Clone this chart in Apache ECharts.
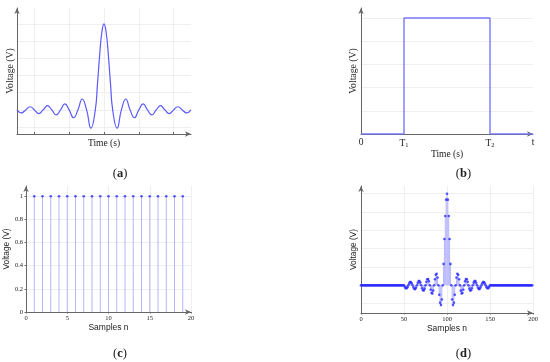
<!DOCTYPE html>
<html><head><meta charset="utf-8">
<script src="https://cdn.jsdelivr.net/npm/echarts@6/dist/echarts.min.js"></script>
<style>html,body{margin:0;padding:0;background:#fff}#c{width:550px;height:362px}</style>
</head><body><div id="c"></div>
<script>
// ---- (a) continuous pulse: extrema and zero crossings
const timeA = [-10,-9.5,-9,-8.5,-8,-7.5,-7,-6.5,-6,-5.5,-5,-4.5,-4,-3.5,-3,-2.5,-2,-1.5,-1,-0.75,-0.5,-0.25,0,0.25,0.5,0.75,1,1.5,2,2.5,3,3.5,4,4.5,5,5.5,6,6.5,7,7.5,8,8.5,9,9.5,10];
const voltA = [0,-0.034,0,0.037,0,-0.042,0,0.049,0,-0.058,0,0.071,0,-0.091,0,0.127,0,-0.212,0,0.300,0.637,0.900,1,0.900,0.637,0.300,0,-0.212,0,0.127,0,-0.091,0,0.071,0,-0.058,0,0.049,0,-0.042,0,0.037,0,-0.034,0];
const ticksA = [-8,-4,0,4,8];
const gridA = [-0.2,0,0.2,0.4,0.6,0.8,1];

// ---- (b) rectangular pulse
const timeB = [0,1,1,3,3,4];
const voltB = [0,0,1,1,0,0];
const tickPosB = [0,1,3,4];
const tickLabB = ['0','T{s|1}','T{s|2}','t'];
const gridB = [0.2,0.4,0.6,0.8,1];

// ---- (c) discrete unit samples
const samplesC = [1,2,3,4,5,6,7,8,9,10,11,12,13,14,15,16,17,18,19];
const voltC = [1,1,1,1,1,1,1,1,1,1,1,1,1,1,1,1,1,1,1];
const xTicksC = [0,5,10,15,20];
const yTicksC = [0,0.2,0.4,0.6,0.8,1];

// ---- (d) sampled pulse, n = 0..200
const voltD = [
0,0,0,0,0,0,0,0,0,0, 0,0,0,0,0,0,0,0,0,0, 0,0,0,0,0,0,0,0,0,0, 0,0,0,0,0,0,0,0,0,0, 0,0,0,0,0,0,0,0,0,0,
0,-0.019,-0.032,-0.032,-0.020, 0,0.021,0.035,0.036,0.023, 0,-0.024,-0.040,-0.041,-0.026, 0,0.028,0.046,0.047,0.030,
0,-0.032,-0.054,-0.056,-0.036, 0,0.039,0.066,0.069,0.045, 0,-0.049,-0.084,-0.089,-0.058, 0,0.067,0.116,0.126,0.085,
0,-0.104,-0.189,-0.216,-0.156, 0,0.234,0.505,0.757,0.935,
1.000,
0.935,0.757,0.505,0.234,0, -0.156,-0.216,-0.189,-0.104,0, 0.085,0.126,0.116,0.067,0, -0.058,-0.089,-0.084,-0.049,0,
0.045,0.069,0.066,0.039,0, -0.036,-0.056,-0.054,-0.032,0, 0.030,0.047,0.046,0.028,0, -0.026,-0.041,-0.040,-0.024,0,
0.023,0.036,0.035,0.021,0, -0.020,-0.032,-0.032,-0.019,0,
0,0,0,0,0,0,0,0,0,0, 0,0,0,0,0,0,0,0,0,0, 0,0,0,0,0,0,0,0,0,0, 0,0,0,0,0,0,0,0,0,0, 0,0,0,0,0,0,0,0,0
];
const xTicksD = [0,50,100,150,200];
const gridD = [-0.2,0,0.2,0.4,0.6,0.8,1];

const SERIF = '"Liberation Serif", "DejaVu Serif", serif';
const SANS = '"Liberation Sans", Arial, sans-serif';
const AXC = '#666';
const GRIDC = '#efefef';

function axisLine(){ return {onZero:false, lineStyle:{color:AXC,width:1}, symbol:['none','arrow'], symbolSize:[4,6]}; }

const chart = echarts.init(document.getElementById('c'), null, {renderer:'canvas'});
chart.setOption({
  animation:false,
  backgroundColor:'#fff',
  grid:[
    {left:17, top:8, width:174, height:126},
    {left:361, top:8, width:172, height:126},
    {left:26, top:186, width:165, height:126},
    {left:361, top:186, width:172, height:127}
  ],
  xAxis:[
    {gridIndex:0, type:'value', min:-10, max:10, axisLine:axisLine(),
     axisTick:{show:true, inside:true, length:2, customValues:ticksA, lineStyle:{color:AXC}},
     axisLabel:{show:false}, splitLine:{show:true, lineStyle:{color:GRIDC}},
     name:'Time (s)', nameLocation:'middle', nameGap:4,
     nameTextStyle:{fontFamily:SERIF, fontSize:9.5, color:'#222', verticalAlign:'top'}},
    {gridIndex:1, type:'value', min:0, max:4, axisLine:axisLine(),
     axisTick:{show:false, customValues:tickPosB},
     axisLabel:{show:true, customValues:tickPosB, margin:3, fontFamily:SERIF, fontSize:9.5, color:'#222',
       formatter:function(v){ return tickLabB[tickPosB.indexOf(v)]; },
       rich:{s:{fontFamily:SERIF, fontSize:6.5, color:'#222', verticalAlign:'bottom', padding:[5,0,0,0]}}},
     splitLine:{show:false},
     name:'Time (s)', nameLocation:'middle', nameGap:9,
     nameTextStyle:{fontFamily:SERIF, fontSize:9.5, color:'#222', verticalAlign:'top'}},
    {gridIndex:2, type:'value', min:0, max:20, axisLine:axisLine(),
     axisTick:{show:true, length:1.5, customValues:xTicksC, lineStyle:{color:AXC}},
     axisLabel:{show:true, customValues:xTicksC, margin:3, fontFamily:SERIF, fontSize:6.5, color:'#222'},
     splitLine:{show:true, lineStyle:{color:GRIDC}},
     name:'Samples n', nameLocation:'middle', nameGap:10,
     nameTextStyle:{fontFamily:SANS, fontSize:8.5, color:'#222', verticalAlign:'top'}},
    {gridIndex:3, type:'value', min:0, max:200, axisLine:axisLine(),
     axisTick:{show:true, length:1.5, customValues:xTicksD, lineStyle:{color:AXC}},
     axisLabel:{show:true, customValues:xTicksD, margin:3, fontFamily:SERIF, fontSize:6.5, color:'#222'},
     splitLine:{show:true, lineStyle:{color:GRIDC}},
     name:'Samples n', nameLocation:'middle', nameGap:10,
     nameTextStyle:{fontFamily:SANS, fontSize:8.5, color:'#222', verticalAlign:'top'}}
  ],
  yAxis:[
    {gridIndex:0, type:'value', min:-0.28, max:1.185, axisLine:axisLine(),
     axisTick:{show:false, customValues:gridA}, axisLabel:{show:false},
     splitLine:{show:true, lineStyle:{color:GRIDC}},
     name:'Voltage (V)', nameLocation:'middle', nameGap:2,
     nameTextStyle:{fontFamily:SERIF, fontSize:9.7, color:'#222'}},
    {gridIndex:1, type:'value', min:0, max:1.086, axisLine:axisLine(),
     axisTick:{show:false, customValues:gridB}, axisLabel:{show:false},
     splitLine:{show:true, lineStyle:{color:GRIDC}},
     name:'Voltage (V)', nameLocation:'middle', nameGap:3,
     nameTextStyle:{fontFamily:SERIF, fontSize:9.7, color:'#222'}},
    {gridIndex:2, type:'value', min:0, max:1.089, axisLine:axisLine(),
     axisTick:{show:true, length:1.5, customValues:yTicksC, lineStyle:{color:AXC}},
     axisLabel:{show:true, customValues:yTicksC, margin:3, fontFamily:SERIF, fontSize:6.5, color:'#222'},
     splitLine:{show:true, lineStyle:{color:GRIDC}},
     name:'Voltage (V)', nameLocation:'middle', nameGap:11,
     nameTextStyle:{fontFamily:SANS, fontSize:8.3, color:'#222'}},
    {gridIndex:3, type:'value', min:-0.302, max:1.084, axisLine:axisLine(),
     axisTick:{show:false, customValues:gridD}, axisLabel:{show:false},
     splitLine:{show:true, lineStyle:{color:GRIDC}},
     name:'Voltage (V)', nameLocation:'middle', nameGap:3,
     nameTextStyle:{fontFamily:SANS, fontSize:8.3, color:'#222'}}
  ],
  series:[
    {type:'line', xAxisIndex:0, yAxisIndex:0, smooth:0.5, showSymbol:false,
     lineStyle:{color:'#5a5aff', width:1.2},
     data:timeA.map((t,i)=>[t, voltA[i]])},
    {type:'line', xAxisIndex:1, yAxisIndex:1, showSymbol:false,
     lineStyle:{color:'#7878ff', width:1.4},
     data:timeB.map((t,i)=>[t, voltB[i]])},
    {type:'bar', xAxisIndex:2, yAxisIndex:2, barWidth:1,
     itemStyle:{color:'#b6b6ff'},
     data:samplesC.map((n,i)=>[n, voltC[i]])},
    {type:'scatter', xAxisIndex:2, yAxisIndex:2, symbolSize:2.6,
     itemStyle:{color:'#2a2aff'},
     data:samplesC.map((n,i)=>[n, voltC[i]])},
    {type:'bar', xAxisIndex:3, yAxisIndex:3, barWidth:1,
     itemStyle:{color:'#b6b6ff'},
     data:voltD.map((v,n)=>[n, v])},
    {type:'scatter', xAxisIndex:3, yAxisIndex:3, symbolSize:2.6,
     itemStyle:{color:'#2a2aff'},
     data:voltD.map((v,n)=>[n, v])}
  ],
  graphic:[
    {type:'text', x:120, y:174, style:{text:'({b|a})', align:'center', verticalAlign:'middle', fontFamily:SERIF, fontSize:12.5, fill:'#222', rich:{b:{fontFamily:SERIF, fontSize:12.5, fontWeight:'bold', fill:'#222'}}}},
    {type:'text', x:463.5, y:173.5, style:{text:'({b|b})', align:'center', verticalAlign:'middle', fontFamily:SERIF, fontSize:12.5, fill:'#222', rich:{b:{fontFamily:SERIF, fontSize:12.5, fontWeight:'bold', fill:'#222'}}}},
    {type:'text', x:120, y:353.5, style:{text:'({b|c})', align:'center', verticalAlign:'middle', fontFamily:SERIF, fontSize:12.5, fill:'#222', rich:{b:{fontFamily:SERIF, fontSize:12.5, fontWeight:'bold', fill:'#222'}}}},
    {type:'text', x:463.5, y:353.5, style:{text:'({b|d})', align:'center', verticalAlign:'middle', fontFamily:SERIF, fontSize:12.5, fill:'#222', rich:{b:{fontFamily:SERIF, fontSize:12.5, fontWeight:'bold', fill:'#222'}}}}
  ]
});
</script></body></html>
